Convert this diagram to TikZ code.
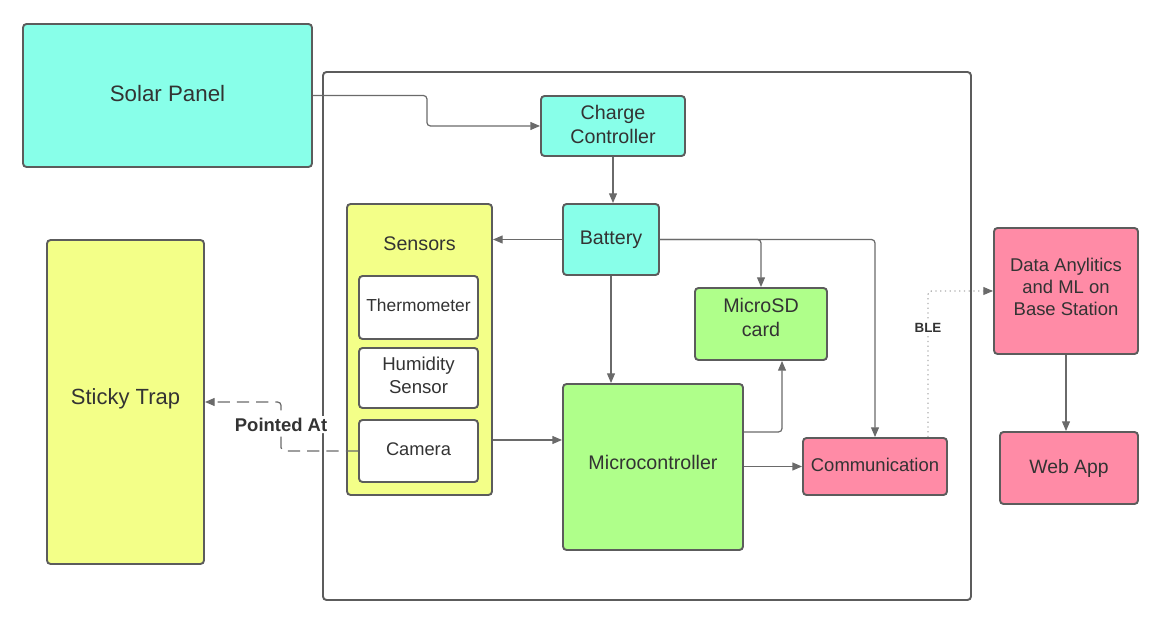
\documentclass[tikz,border=0pt]{standalone}
\usepackage{fontspec}
\setmainfont{Liberation Sans}
\usetikzlibrary{calc, arrows.meta, positioning}
\definecolor{solarcyan}{HTML}{88FFE9}
\definecolor{trapyellow}{HTML}{F3FF88}
\definecolor{chipgreen}{HTML}{AFFF8A}
\definecolor{linkpink}{HTML}{FF8BA6}
\definecolor{edgegray}{HTML}{5C5C5C}
\definecolor{wiregray}{HTML}{6A6A6A}
\definecolor{txtgray}{HTML}{333333}

\begin{document}
\begin{tikzpicture}[x=0.02cm,y=-0.02cm,
	box/.style={draw=edgegray,line width=1.1pt,rounded corners=2pt,text=txtgray,align=center,inner sep=0pt,font=\fontsize{11.2}{13.6}\selectfont},
	arr/.style={draw=wiregray,line width=0.7pt,rounded corners=2pt,-{Triangle[length=5.5pt,width=4.5pt]}},
	lbl/.style={fill=white,text=txtgray,inner sep=1pt,font=\bfseries}]
	\useasboundingbox (0,0) rectangle (1163,624);
	% outer housing
	\draw[edgegray,line width=1.1pt,rounded corners=2pt] (323,72) rectangle (971,600);
	% blocks
	\node[box,fill=solarcyan,minimum width=5.78cm,minimum height=2.86cm,text depth=2.3pt,font=\fontsize{12.7}{15}\selectfont] (solar) at (167.5,95.5) {Solar Panel};
	\node[box,fill=solarcyan,minimum width=2.88cm,minimum height=1.2cm,text depth=2.3pt] (charge) at (613,126) {Charge\\Controller};
	\node[box,fill=solarcyan,minimum width=1.92cm,minimum height=1.42cm] (battery) at (611,239.5) {Battery};
	\node[box,fill=trapyellow,minimum width=2.9cm,minimum height=5.82cm] (sensors) at (419.5,349.5) {};
	\node[text=txtgray,font=\fontsize{11.2}{13.6}\selectfont] (sensorsname) at (419.5,244) {Sensors};
	\node[box,fill=white,minimum width=2.38cm,minimum height=1.26cm,text depth=2.3pt,font=\fontsize{9.9}{12.5}\selectfont] (thermo) at (418.5,307.5) {Thermometer};
	\node[box,fill=white,minimum width=2.38cm,minimum height=1.2cm,text depth=3.4pt,font=\fontsize{10.6}{12.8}\selectfont] (humid) at (418.5,378) {Humidity\\Sensor};
	\node[box,fill=white,minimum width=2.38cm,minimum height=1.24cm,text depth=2.3pt,font=\fontsize{10.4}{12.5}\selectfont] (camera) at (418.5,451) {Camera};
	\node[box,fill=trapyellow,minimum width=3.14cm,minimum height=6.48cm,text depth=6pt,font=\fontsize{12.5}{15}\selectfont] (trap) at (125.5,402) {Sticky Trap};
	\node[box,fill=chipgreen,minimum width=2.64cm,minimum height=1.44cm,text depth=7.9pt] (microsd) at (761,324) {MicroSD\\card};
	\node[box,fill=chipgreen,minimum width=3.6cm,minimum height=3.32cm,text depth=5.7pt] (micro) at (653,467) {Microcontroller};
	\node[box,fill=linkpink,minimum width=2.88cm,minimum height=1.14cm,text depth=2.3pt,font=\fontsize{10.5}{12.5}\selectfont] (comm) at (875,466.5) {Communication};
	\node[box,fill=linkpink,minimum width=2.88cm,minimum height=2.52cm,text depth=4.5pt,font=\fontsize{10.5}{12.5}\selectfont] (base) at (1066,291) {Data Anylitics\\and ML on\\Base Station};
	\node[box,fill=linkpink,minimum width=2.76cm,minimum height=1.44cm,text depth=1.5pt,font=\fontsize{11}{13}\selectfont] (webapp) at (1069,468) {Web App};
	% connectors
	\draw[arr] (solar.east) -- ++(114,0) |- (charge.west);
	\draw[arr] (charge.south) -- (charge.south |- battery.north);
	\draw[arr] (battery.west) -- (sensors.east |- battery.west);
	\draw[arr] (battery.east) -| (microsd.north);
	\draw[arr] (battery.east) -| (comm.north);
	\draw[arr] (battery.south) -- (battery.south |- micro.north);
	\draw[arr] (sensors.east |- 0,440) -- (micro.west |- 0,440);
	\draw[arr] (micro.east |- 0,432) -| ($(microsd.south)+(21,0)$);
	\draw[arr] (micro.east |- comm.west) -- (comm.west);
	\draw[arr,dotted,line width=0.5pt] ($(comm.north)+(53,0)$) |- (base.west) node[lbl,pos=0.375,font=\bfseries\fontsize{7.6}{9}\selectfont] (ble) {BLE};
	\draw[arr] (base.south) -- (base.south |- webapp.north);
	\draw[arr,dash pattern=on 7pt off 4pt] (camera.west) -- ++(-77,0) |- (trap.east) node[lbl,pos=0.27,font=\bfseries\fontsize{10.5}{12.5}\selectfont] (aim) {Pointed At};
\end{tikzpicture}
\end{document}
